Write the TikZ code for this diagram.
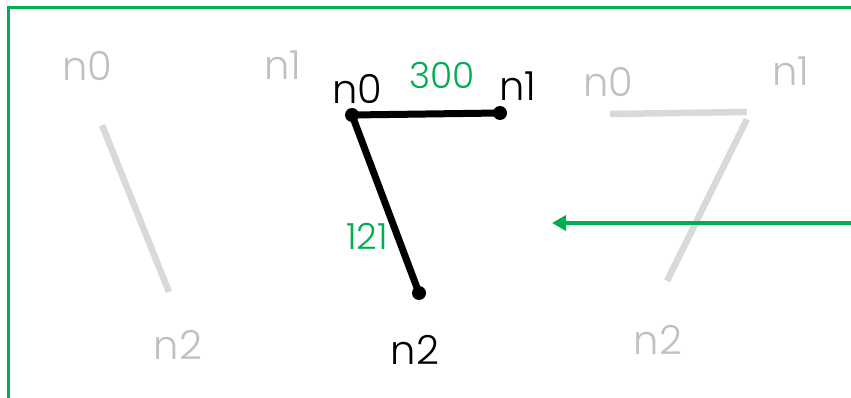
\documentclass[tikz,border=0pt]{standalone}
\usepackage{fontspec}
\setmainfont{Poppins}[UprightFont=* Light]
\usetikzlibrary{arrows.meta}
\definecolor{frgreen}{RGB}{0,174,80}
\definecolor{ghosttext}{RGB}{192,192,192}
\definecolor{ghostline}{RGB}{217,217,217}
\begin{document}
\begin{tikzpicture}[x=1pt,y=-1pt,
  lbl/.style={inner sep=0pt,font=\fontsize{40}{44}\selectfont},
  ghostlbl/.style={lbl,text=ghosttext},
  weight/.style={inner sep=0pt,text=frgreen,font=\fontsize{36}{40}\selectfont},
  vtx/.style={circle,fill=black,inner sep=0pt,minimum size=14pt},
  pt/.style={inner sep=0pt,minimum size=0pt},
  edge/.style={line width=7pt},
  ghostedge/.style={line width=6.5pt,draw=ghostline},
]
\useasboundingbox (0,0) rectangle (851,398);
% frame
\coordinate (fr1) at (851,7.5);
\coordinate (fr2) at (8.5,7.5);
\coordinate (fr3) at (8.5,398);
\draw[frgreen,line width=2.5pt] (fr1) -- (fr2) -- (fr3);

% left faded graph
\node[ghostlbl] (la0) at (87,66) {n0};
\node[ghostlbl] (la1) at (283,65) {n1};
\node[ghostlbl] (la2) at (178,345) {n2};
\node[pt] (lp0) at (102,125) {};
\node[pt] (lp2) at (169,292) {};
\draw[ghostedge] (lp0) -- (lp2);

% right faded graph
\node[ghostlbl] (ra0) at (608,82) {n0};
\node[ghostlbl] (ra1) at (791,71) {n1};
\node[ghostlbl] (ra2) at (658,340) {n2};
\node[pt] (rp0) at (610,114) {};
\node[pt] (rp1) at (747,112) {};
\node[pt] (rp1b) at (747,119) {};
\node[pt] (rp2) at (667,281) {};
\draw[ghostedge] (rp0) -- (rp1);
\draw[ghostedge] (rp1b) -- (rp2);

% current graph
\node[vtx] (v0) at (352,115) {};
\node[vtx] (v1) at (500,113) {};
\node[vtx] (v2) at (419,293) {};
\draw[edge] (v0.center) -- (v1.center);
\draw[edge] (v0.center) -- (v2.center);
\node[lbl] (t0) at (357,89) {n0};
\node[lbl] (t1) at (518,86) {n1};
\node[lbl] (t2) at (415,350) {n2};
\node[weight] (w01) at (442,75) {300};
\node[weight] (w02) at (367,236) {121};

% step arrow
\coordinate (as) at (851,223);
\coordinate (ae) at (552,223);
\draw[frgreen,line width=4pt,-{Triangle[length=14pt,width=15pt]}] (as) -- (ae);
\end{tikzpicture}
\end{document}
